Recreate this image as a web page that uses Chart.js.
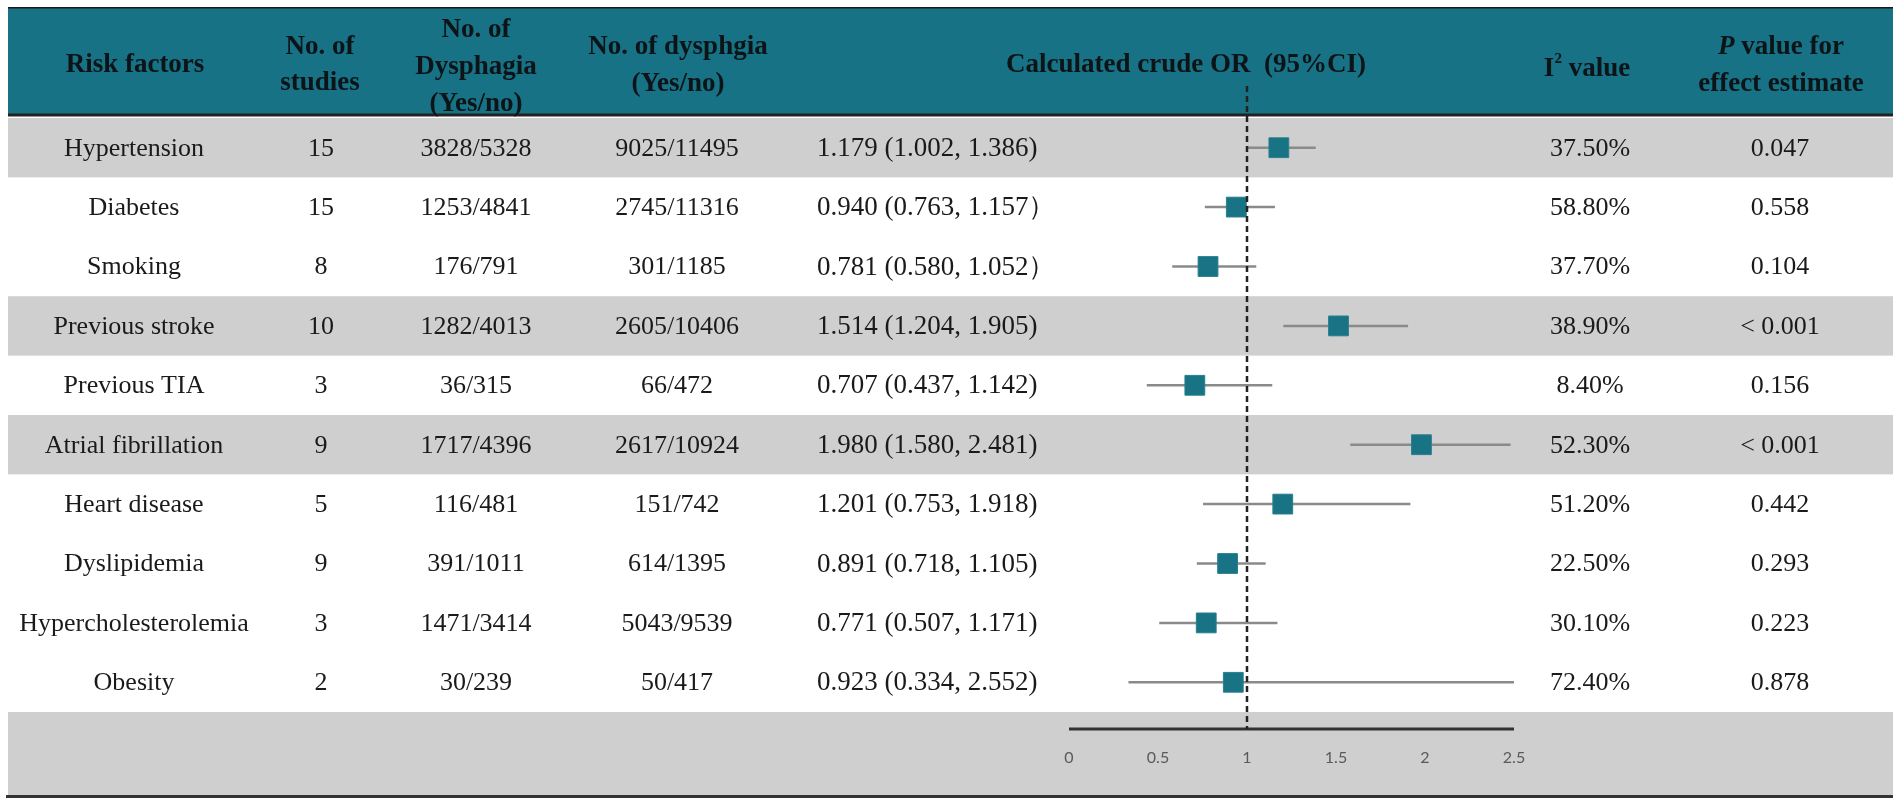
<!DOCTYPE html>
<html>
<head>
<meta charset="utf-8">
<title>Risk factors for dysphagia - crude OR</title>
<script src="https://cdn.jsdelivr.net/npm/chart.js@4.4.1/dist/chart.umd.min.js"></script>
<style>
  html, body { margin: 0; padding: 0; background: #fff; }
  #wrap { width: 1902px; height: 807px; }
</style>
</head>
<body>
<div id="wrap"><canvas id="forest" width="1902" height="807"></canvas></div>
<script>
// table data
const riskFactors = ["Hypertension", "Diabetes", "Smoking", "Previous stroke", "Previous TIA",
  "Atrial fibrillation", "Heart disease", "Dyslipidemia", "Hypercholesterolemia", "Obesity"];
const studies = [15, 15, 8, 10, 3, 9, 5, 9, 3, 2];
const dysphagiaYesNo = ["3828/5328", "1253/4841", "176/791", "1282/4013", "36/315",
  "1717/4396", "116/481", "391/1011", "1471/3414", "30/239"];
const dysphgiaYesNo = ["9025/11495", "2745/11316", "301/1185", "2605/10406", "66/472",
  "2617/10924", "151/742", "614/1395", "5043/9539", "50/417"];
const orValues = [1.179, 0.940, 0.781, 1.514, 0.707, 1.980, 1.201, 0.891, 0.771, 0.923];
const ciLower = [1.002, 0.763, 0.580, 1.204, 0.437, 1.580, 0.753, 0.718, 0.507, 0.334];
const ciUpper = [1.386, 1.157, 1.052, 1.905, 1.142, 2.481, 1.918, 1.105, 1.171, 2.552];
const closeMarks = [")", "）", "）", ")", ")", ")", ")", ")", ")", ")"];
const i2Values = ["37.50%", "58.80%", "37.70%", "38.90%", "8.40%", "52.30%", "51.20%",
  "22.50%", "30.10%", "72.40%"];
const pValues = ["0.047", "0.558", "0.104", "< 0.001", "0.156", "< 0.001", "0.442",
  "0.293", "0.223", "0.878"];
const shadedRows = [0, 3, 5];
const xTicks = [0, 0.5, 1, 1.5, 2, 2.5];

const TEAL = "#177285";
const BAND = "#d0cfcf";
const INK = "#1a1a1a";
const SERIF = "'Liberation Serif', 'Times New Roman', serif";

const fmt = v => v.toFixed(3);
const orText = i => fmt(orValues[i]) + " (" + fmt(ciLower[i]) + ", " + fmt(ciUpper[i]) + closeMarks[i];

// table frame
const tableLeft = 8, tableRight = 1893;
const headTop = 8, headBottom = 115, tableBottom = 796;
const axisGap = 17; // axis line sits a little below the last row

function centerText(ctx, txt, x, y) {
  ctx.textAlign = "center";
  ctx.fillText(txt, x, y);
}

const tablePlugin = {
  id: "forestTable",
  beforeDraw(chart) {
    const ctx = chart.ctx;
    const ys = chart.scales.y;
    const area = chart.chartArea;
    const rowH = Math.abs(ys.getPixelForValue(1) - ys.getPixelForValue(0));
    ctx.save();
    ctx.fillStyle = "#fff";
    ctx.fillRect(0, 0, chart.width, chart.height);

    // header
    ctx.fillStyle = TEAL;
    ctx.fillRect(tableLeft, headTop, tableRight - tableLeft, headBottom - headTop);
    ctx.fillStyle = INK;
    ctx.fillRect(tableLeft, headTop - 1, tableRight - tableLeft, 1.5);

    // shaded rows
    ctx.fillStyle = BAND;
    shadedRows.forEach(i => {
      const c = ys.getPixelForValue(i);
      ctx.fillRect(tableLeft, c - rowH / 2, tableRight - tableLeft, rowH);
    });
    ctx.fillRect(tableLeft, area.bottom, tableRight - tableLeft, tableBottom - area.bottom);

    // header rule and bottom rule
    ctx.fillStyle = "#222";
    ctx.fillRect(tableLeft, headBottom - 1.5, tableRight - tableLeft, 3);
    ctx.fillStyle = "#333";
    ctx.fillRect(tableLeft - 2, tableBottom - 1, tableRight - tableLeft + 2, 3);

    // header text
    ctx.fillStyle = "#0d1418";
    ctx.textBaseline = "middle";
    ctx.font = "bold 27px " + SERIF;
    centerText(ctx, "Risk factors", 135, 65);
    centerText(ctx, "No. of", 320, 47);
    centerText(ctx, "studies", 320, 83);
    centerText(ctx, "No. of", 476, 30);
    centerText(ctx, "Dysphagia", 476, 67);
    centerText(ctx, "(Yes/no)", 476, 104);
    centerText(ctx, "No. of dysphgia", 678, 47);
    centerText(ctx, "(Yes/no)", 678, 84);
    centerText(ctx, "Calculated crude OR  (95%CI)", 1186, 65);

    // I² value
    ctx.textAlign = "left";
    const wI = ctx.measureText("I").width;
    const wRest = ctx.measureText(" value").width;
    ctx.font = "bold 15px " + SERIF;
    const wSup = ctx.measureText("2").width;
    let sx = 1587 - (wI + wSup + wRest) / 2;
    ctx.font = "bold 27px " + SERIF;
    ctx.fillText("I", sx, 69);
    ctx.font = "bold 15px " + SERIF;
    ctx.fillText("2", sx + wI, 59);
    ctx.font = "bold 27px " + SERIF;
    ctx.fillText(" value", sx + wI + wSup, 69);

    // P value for / effect estimate
    ctx.font = "italic bold 27px " + SERIF;
    const wP = ctx.measureText("P").width;
    ctx.font = "bold 27px " + SERIF;
    const wV = ctx.measureText(" value for").width;
    sx = 1781 - (wP + wV) / 2;
    ctx.font = "italic bold 27px " + SERIF;
    ctx.fillText("P", sx, 47);
    ctx.font = "bold 27px " + SERIF;
    ctx.fillText(" value for", sx + wP, 47);
    centerText(ctx, "effect estimate", 1781, 84);

    // body text
    ctx.fillStyle = INK;
    riskFactors.forEach((name, i) => {
      const cy = ys.getPixelForValue(i) + 1;
      ctx.font = "26px " + SERIF;
      centerText(ctx, name, 134, cy);
      centerText(ctx, String(studies[i]), 321, cy);
      centerText(ctx, dysphagiaYesNo[i], 476, cy);
      centerText(ctx, dysphgiaYesNo[i], 677, cy);
      centerText(ctx, i2Values[i], 1590, cy);
      centerText(ctx, pValues[i], 1780, cy);
      ctx.font = "27px " + SERIF;
      ctx.textAlign = "left";
      ctx.fillText(orText(i), 817, cy);
    });
    ctx.restore();
  },
  beforeDatasetsDraw(chart) {
    const ctx = chart.ctx;
    const xs = chart.scales.x;
    const axisY = chart.chartArea.bottom + axisGap;
    ctx.save();
    // x axis line
    ctx.strokeStyle = "#333";
    ctx.lineWidth = 3;
    ctx.beginPath();
    ctx.moveTo(xs.getPixelForValue(xTicks[0]), axisY);
    ctx.lineTo(xs.getPixelForValue(xTicks[xTicks.length - 1]), axisY);
    ctx.stroke();
    ctx.restore();
  },
  afterDatasetsDraw(chart) {
    const ctx = chart.ctx;
    const xs = chart.scales.x;
    const x1 = xs.getPixelForValue(1);
    ctx.save();
    ctx.strokeStyle = "#222";
    ctx.lineWidth = 2.5;
    ctx.setLineDash([6, 4]);
    ctx.beginPath();
    ctx.moveTo(x1, 86);
    ctx.lineTo(x1, chart.chartArea.bottom + axisGap);
    ctx.stroke();
    ctx.restore();
  }
};

const ciSets = riskFactors.map((name, i) => ({
  type: "line",
  label: name + " CI",
  data: [{ x: ciLower[i], y: i }, { x: ciUpper[i], y: i }],
  borderColor: "#8a8a8a",
  borderWidth: 2.5,
  pointRadius: 0,
  pointHoverRadius: 0,
  order: 2
}));

new Chart(document.getElementById("forest"), {
  type: "scatter",
  data: {
    datasets: [
      {
        label: "Crude OR",
        data: orValues.map((v, i) => ({ x: v, y: i })),
        pointStyle: "rect",
        pointRadius: 14,
        pointHoverRadius: 14,
        backgroundColor: "#187384",
        borderColor: "#2a7f8e",
        borderWidth: 1,
        order: 1
      },
      ...ciSets
    ]
  },
  options: {
    responsive: false,
    animation: false,
    layout: { padding: { left: 1069, right: 388, top: 118, bottom: 40 } },
    plugins: { legend: { display: false }, tooltip: { enabled: false } },
    scales: {
      x: {
        type: "linear",
        min: 0,
        max: 2.5,
        afterBuildTicks: scale => { scale.ticks = xTicks.map(v => ({ value: v })); },
        afterFit: scale => { scale.height = 55; },
        grid: { display: false, drawTicks: false },
        border: { display: false },
        ticks: {
          padding: 36,
          color: "#5a5a5a",
          font: { family: "Lato, 'Open Sans', sans-serif", size: 16 },
          maxRotation: 0,
          callback: v => String(v)
        }
      },
      y: {
        type: "linear",
        reverse: true,
        min: -0.5,
        max: riskFactors.length - 0.5,
        display: false
      }
    }
  },
  plugins: [tablePlugin]
});
</script>
</body>
</html>
